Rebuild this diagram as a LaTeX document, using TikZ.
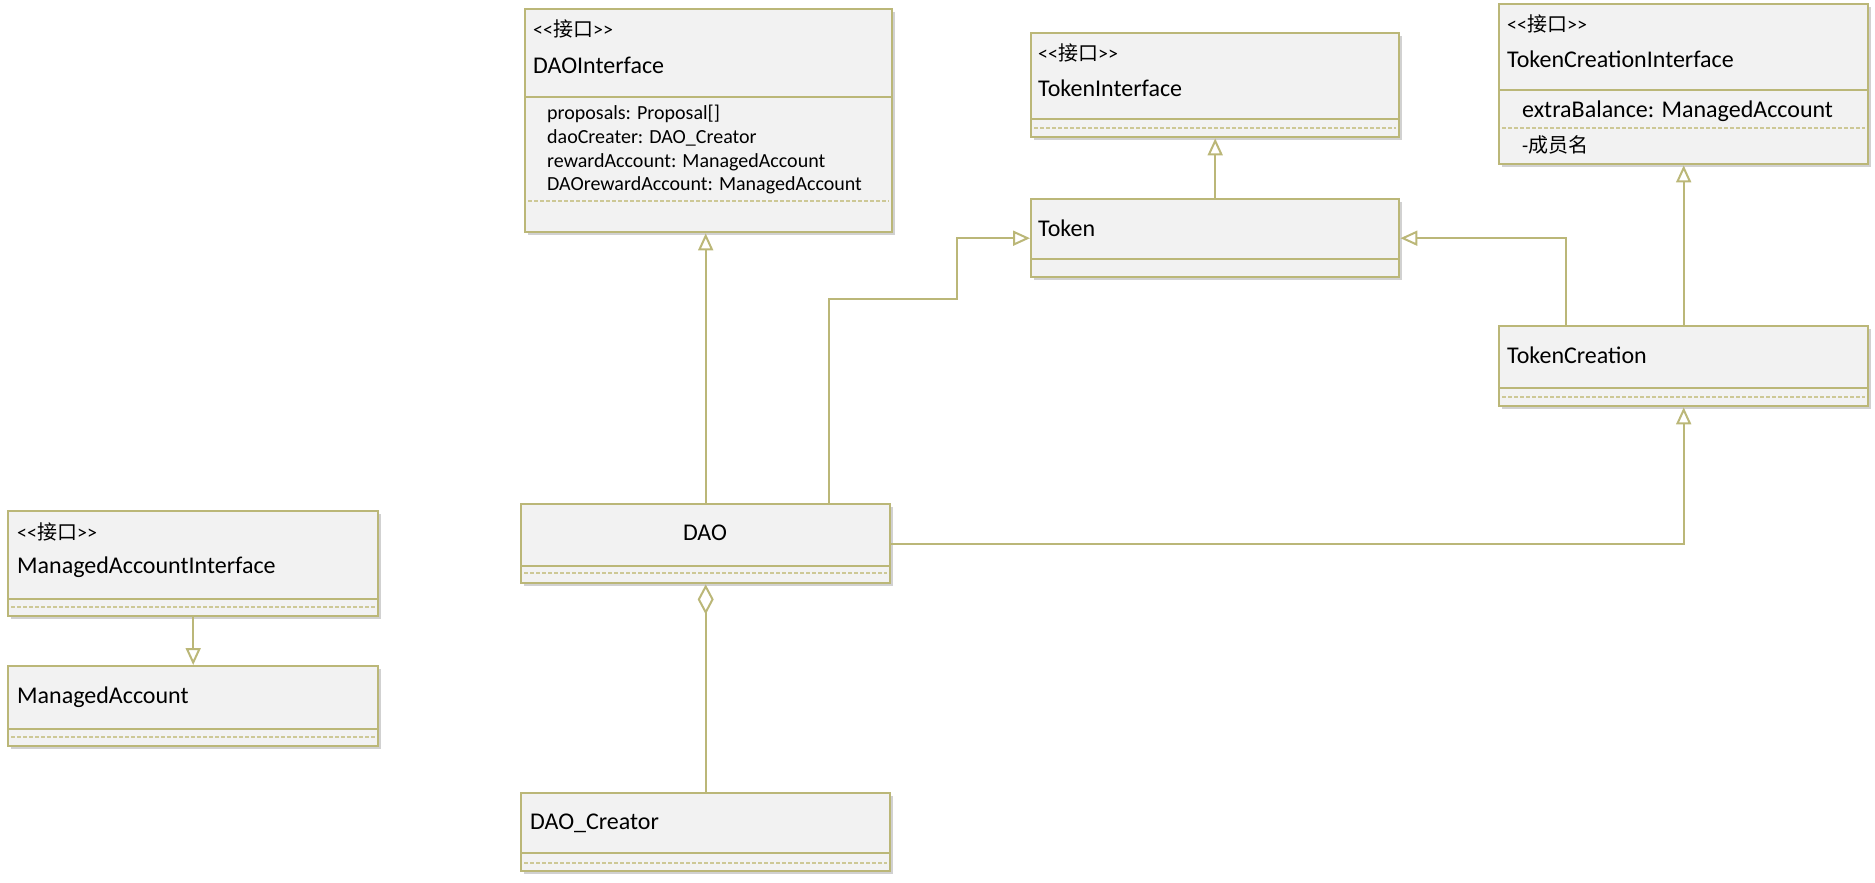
\documentclass[tikz,border=0pt]{standalone}
\usepackage{fontspec}
\setmainfont{Carlito}
\newfontfamily\cjk{Noto Sans CJK SC}
\usetikzlibrary{arrows.meta,shadows,calc}
\definecolor{umlline}{RGB}{187,183,120}
\definecolor{umldash}{RGB}{205,200,150}
\definecolor{umlfill}{RGB}{242,242,242}
\newcommand{\stereotxt}{<\kern0pt<{\cjk 接口}>\kern0pt>}
\tikzset{
  cls/.style={draw=umlline, line width=2.4pt, fill=umlfill, rectangle, inner sep=0pt, anchor=north west,
    drop shadow={shadow xshift=3pt, shadow yshift=-3pt, fill=black, opacity=.18}},
  divline/.style={draw=umlline, line width=2.4pt},
  dashline/.style={draw=umldash, line width=1.3pt, dash pattern=on 4pt off 2pt},
  stereo/.style={anchor=west, inner sep=0pt, font=\fontsize{20}{23}\selectfont},
  cname/.style={anchor=west, inner sep=0pt, font=\fontsize{24}{28}\selectfont},
  attr/.style={anchor=west, inner sep=0pt, font=\fontsize{20}{24}\selectfont},
  attrb/.style={anchor=west, inner sep=0pt, font=\fontsize{24}{28}\selectfont},
  conn/.style={draw=umlline, line width=2pt},
  gen/.style={conn, -{Triangle[open, width=15pt, length=17pt, line width=2pt]}},
  agg/.style={conn, {Diamond[open, width=16pt, length=30pt, line width=2pt]}-},
}
\begin{document}
\begin{tikzpicture}[x=1pt, y=-1pt]
\useasboundingbox (0,0) rectangle (1875,883);

% DAOInterface
\node[cls, minimum width=367pt, minimum height=223pt] (daoi) at (524,8) {};
\draw[divline] (daoi.west |- 0,97) -- (daoi.east |- 0,97);
\draw[dashline] ($(daoi.west |- 0,201)+(4,0)$) -- ($(daoi.east |- 0,201)+(-4,0)$);
\node[stereo] (daoi-s) at (533,29) {\stereotxt};
\node[cname] (daoi-n) at (533,65) {DAOInterface};
\node[attr] (daoi-a1) at (547,114) {proposals: Proposal[]};
\node[attr] (daoi-a2) at (547,138) {daoCreater: DAO\_Creator};
\node[attr] (daoi-a3) at (547,162) {rewardAccount: ManagedAccount};
\node[attr] (daoi-a4) at (547,185) {DAOrewardAccount: ManagedAccount};

% TokenInterface
\node[cls, minimum width=368pt, minimum height=104pt] (toki) at (1030,32) {};
\draw[divline] (toki.west |- 0,119) -- (toki.east |- 0,119);
\draw[dashline] ($(toki.west |- 0,128)+(4,0)$) -- ($(toki.east |- 0,128)+(-4,0)$);
\node[stereo] (toki-s) at (1038,53) {\stereotxt};
\node[cname] (toki-n) at (1038,88) {TokenInterface};

% Token
\node[cls, minimum width=368pt, minimum height=78pt] (tok) at (1030,198) {};
\draw[divline] (tok.west |- 0,259) -- (tok.east |- 0,259);
\node[cname] (tok-n) at (1038,228) {Token};

% TokenCreationInterface
\node[cls, minimum width=369pt, minimum height=160pt] (tci) at (1498,3) {};
\draw[divline] (tci.west |- 0,90) -- (tci.east |- 0,90);
\draw[dashline] ($(tci.west |- 0,128)+(4,0)$) -- ($(tci.east |- 0,128)+(-4,0)$);
\node[stereo] (tci-s) at (1507,24) {\stereotxt};
\node[cname] (tci-n) at (1507,59) {TokenCreationInterface};
\node[attrb] (tci-a1) at (1522,111) {extraBalance: ManagedAccount};
\node[attr] (tci-a2) at (1522,145) {-{\cjk 成员名}};

% TokenCreation
\node[cls, minimum width=369pt, minimum height=80pt] (tc) at (1498,325) {};
\draw[divline] (tc.west |- 0,388) -- (tc.east |- 0,388);
\draw[dashline] ($(tc.west |- 0,397)+(4,0)$) -- ($(tc.east |- 0,397)+(-4,0)$);
\node[cname] (tc-n) at (1507,355) {TokenCreation};

% ManagedAccountInterface
\node[cls, minimum width=370pt, minimum height=105pt] (mai) at (7,510) {};
\draw[divline] (mai.west |- 0,599) -- (mai.east |- 0,599);
\draw[dashline] ($(mai.west |- 0,607)+(4,0)$) -- ($(mai.east |- 0,607)+(-4,0)$);
\node[stereo] (mai-s) at (17,532) {\stereotxt};
\node[cname] (mai-n) at (17,567) {ManagedAccountInterface};

% ManagedAccount
\node[cls, minimum width=370pt, minimum height=80pt] (ma) at (7,665) {};
\draw[divline] (ma.west |- 0,729) -- (ma.east |- 0,729);
\draw[dashline] ($(ma.west |- 0,737)+(4,0)$) -- ($(ma.east |- 0,737)+(-4,0)$);
\node[cname] (ma-n) at (17,697) {ManagedAccount};

% DAO
\node[cls, minimum width=369pt, minimum height=79pt] (dao) at (520,503) {};
\draw[divline] (dao.west |- 0,566) -- (dao.east |- 0,566);
\draw[dashline] ($(dao.west |- 0,573)+(4,0)$) -- ($(dao.east |- 0,573)+(-4,0)$);
\node[cname, anchor=center] (dao-n) at (705,533) {DAO};

% DAO_Creator
\node[cls, minimum width=369pt, minimum height=78pt] (daoc) at (520,792) {};
\draw[divline] (daoc.west |- 0,853) -- (daoc.east |- 0,853);
\draw[dashline] ($(daoc.west |- 0,863)+(4,0)$) -- ($(daoc.east |- 0,863)+(-4,0)$);
\node[cname] (daoc-n) at (530,823) {DAO\_Creator};

% connectors
\coordinate (j1) at (829,299);
\coordinate (j2) at (957,299);
\coordinate (j3) at (1566,299);
\draw[gen] (dao.north) -- (dao.north |- daoi.south);
\draw[gen] (tok.north) -- (toki.south);
\draw[gen] (tc.north) -- (tci.south);
\draw[gen] (mai.south) -- (ma.north);
\draw[gen] (dao.north -| j1) -- (j1) -- (j2) |- (tok.west);
\draw[gen] (tc.north -| j3) |- (tok.east);
\draw[gen] (dao.east) -| (tc.south);
\draw[agg] (dao.south) -- (daoc.north);
\end{tikzpicture}
\end{document}
